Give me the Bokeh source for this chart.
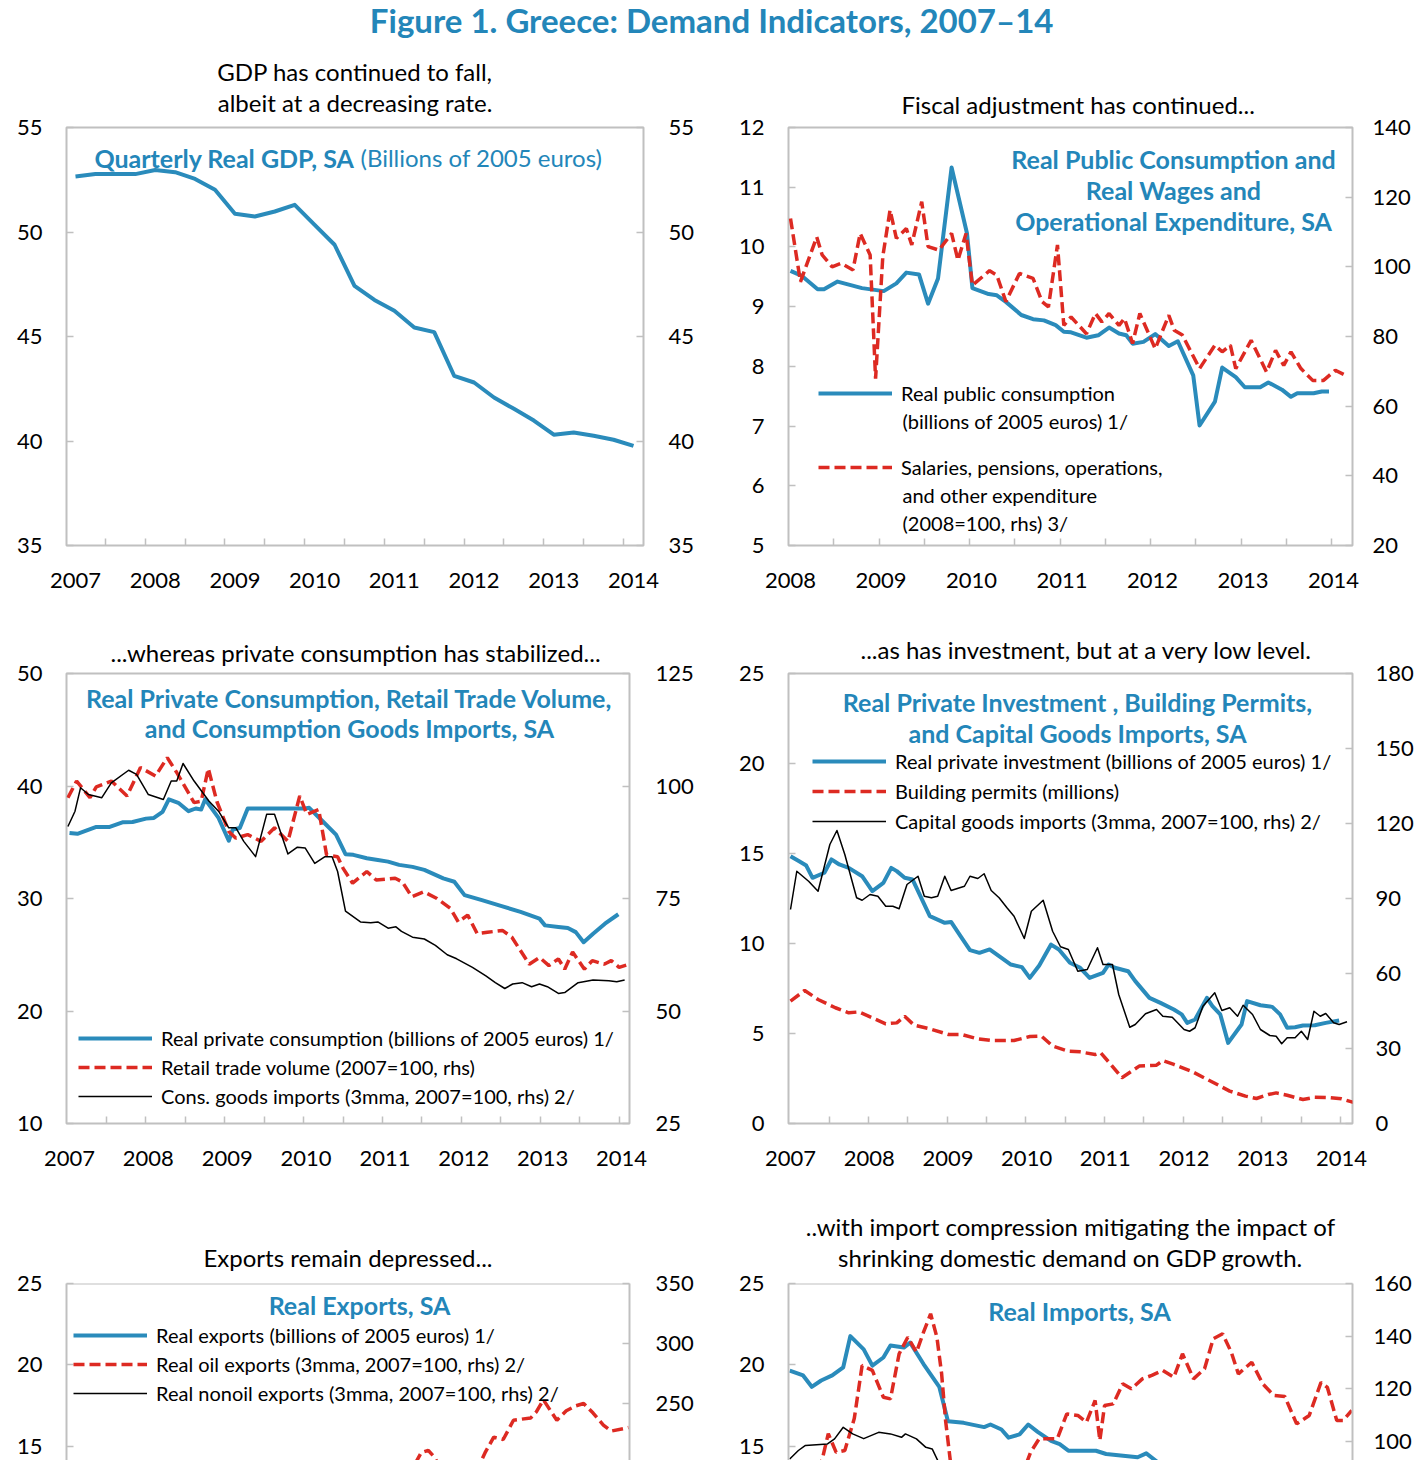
from bokeh.plotting import figure
from bokeh.models import Range1d, LinearAxis, FixedTicker, Legend, LegendItem, Label, Span, Title
from bokeh.layouts import column, row
from bokeh.embed import file_html
from bokeh.resources import INLINE

FONT = "Lato"
BLUE = "#2a8bbb"
TITLE_BLUE = "#2386b9"
RED = "#dd2a22"
BLACK = "#000000"
FRAME = "#c0c0c0"

# ---------------- data ----------------
years_07 = [2007, 2008, 2009, 2010, 2011, 2012, 2013, 2014]
years_08 = [2008, 2009, 2010, 2011, 2012, 2013, 2014]

# Panel 1: quarterly real GDP (billions of 2005 euros)
gdp_t = [2007.0, 2007.25, 2007.5, 2007.75, 2008.0, 2008.25, 2008.5, 2008.75,
         2009.0, 2009.25, 2009.5, 2009.75, 2010.0, 2010.25, 2010.5, 2010.75,
         2011.0, 2011.25, 2011.5, 2011.75, 2012.0, 2012.25, 2012.5, 2012.75,
         2013.0, 2013.25, 2013.5, 2013.75, 2014.0]
gdp = [52.66, 52.77, 52.78, 52.77, 52.97, 52.86, 52.54, 52.02, 50.87, 50.74,
       50.98, 51.30, 50.34, 49.39, 47.42, 46.75, 46.23, 45.43, 45.21, 43.12,
       42.80, 42.08, 41.54, 40.98, 40.30, 40.41, 40.25, 40.06, 39.77]

# Panel 2: real public consumption (lhs) and salaries etc. (rhs, 2008=100)
pubcons_t = [2008.00, 2008.12, 2008.30, 2008.37, 2008.52, 2008.79, 2009.03, 2009.17,
             2009.28, 2009.42, 2009.52, 2009.63, 2009.78, 2009.95, 2010.01, 2010.19,
             2010.28, 2010.38, 2010.55, 2010.68, 2010.80, 2010.93, 2011.02, 2011.10,
             2011.27, 2011.40, 2011.52, 2011.63, 2011.71, 2011.78, 2011.90, 2012.03,
             2012.18, 2012.28, 2012.45, 2012.52, 2012.69, 2012.77, 2012.92, 2013.02,
             2013.19, 2013.28, 2013.43, 2013.53, 2013.60, 2013.78, 2013.87, 2013.95]
pubcons = [9.60, 9.52, 9.29, 9.29, 9.42, 9.31, 9.26, 9.39, 9.57, 9.54, 9.05, 9.47,
           11.33, 10.23, 9.31, 9.21, 9.19, 9.08, 8.86, 8.79, 8.77, 8.69, 8.58, 8.57,
           8.48, 8.52, 8.65, 8.55, 8.52, 8.38, 8.41, 8.54, 8.34, 8.42, 7.85, 7.01,
           7.41, 7.98, 7.82, 7.65, 7.65, 7.73, 7.61, 7.49, 7.55, 7.55, 7.58, 7.58]
spend_t = [2008.00, 2008.11, 2008.29, 2008.35, 2008.46, 2008.56, 2008.69, 2008.77,
           2008.88, 2008.94, 2009.02, 2009.10, 2009.17, 2009.28, 2009.34, 2009.45,
           2009.52, 2009.64, 2009.78, 2009.85, 2009.94, 2010.01, 2010.20, 2010.28,
           2010.38, 2010.53, 2010.68, 2010.78, 2010.85, 2010.95, 2011.02, 2011.10,
           2011.27, 2011.37, 2011.44, 2011.52, 2011.63, 2011.69, 2011.78, 2011.86,
           2012.03, 2012.18, 2012.24, 2012.33, 2012.52, 2012.69, 2012.77, 2012.86,
           2012.92, 2013.09, 2013.26, 2013.36, 2013.45, 2013.53, 2013.64, 2013.77,
           2013.89, 2014.02, 2014.13]
spend = [113.9, 95.7, 108.6, 103.4, 100.0, 101.0, 99.1, 109.6, 103.4, 67.9, 103.0,
         116.3, 108.2, 111.0, 106.3, 118.7, 105.8, 104.8, 109.6, 101.9, 109.6, 94.7,
         98.9, 97.6, 90.0, 98.1, 96.7, 90.0, 88.5, 106.3, 83.2, 85.6, 80.8, 86.6,
         84.2, 86.6, 83.2, 85.2, 78.0, 86.6, 76.5, 86.1, 81.8, 80.4, 70.8, 77.5,
         75.6, 77.5, 70.8, 78.9, 69.8, 76.0, 71.7, 75.6, 70.8, 67.4, 67.4, 70.3, 68.9]

# Panel 3: private consumption (lhs), retail trade (rhs), cons. goods imports (rhs)
privcons_t = [2007.00, 2007.10, 2007.34, 2007.51, 2007.68, 2007.80, 2007.97, 2008.07,
              2008.18, 2008.26, 2008.38, 2008.51, 2008.60, 2008.67, 2008.72, 2008.89,
              2009.02, 2009.07, 2009.16, 2009.26, 2009.99, 2010.04, 2010.21, 2010.38,
              2010.50, 2010.60, 2010.77, 2010.91, 2011.04, 2011.18, 2011.35, 2011.50,
              2011.74, 2011.88, 2012.01, 2012.23, 2012.47, 2012.72, 2012.96, 2013.03,
              2013.20, 2013.32, 2013.42, 2013.52, 2013.64, 2013.79, 2013.96]
privcons = [35.82, 35.75, 36.36, 36.36, 36.78, 36.80, 37.10, 37.16, 37.70, 38.81,
            38.51, 37.76, 38.00, 37.91, 38.81, 37.16, 35.13, 36.12, 36.27, 38.00,
            38.00, 38.06, 36.87, 35.67, 33.94, 33.88, 33.58, 33.43, 33.28, 32.99,
            32.81, 32.54, 31.79, 31.49, 30.30, 29.85, 29.34, 28.81, 28.21, 27.61,
            27.46, 27.37, 27.01, 26.12, 26.87, 27.76, 28.60]
retail_t = [2006.98, 2007.09, 2007.26, 2007.34, 2007.53, 2007.73, 2007.90, 2008.09,
            2008.24, 2008.36, 2008.58, 2008.67, 2008.76, 2008.87, 2009.02, 2009.11,
            2009.26, 2009.43, 2009.60, 2009.77, 2009.92, 2010.01, 2010.16, 2010.26,
            2010.40, 2010.47, 2010.59, 2010.77, 2010.89, 2011.13, 2011.22, 2011.34,
            2011.49, 2011.66, 2011.83, 2011.93, 2012.05, 2012.17, 2012.30, 2012.49,
            2012.61, 2012.83, 2012.96, 2013.08, 2013.20, 2013.28, 2013.38, 2013.53,
            2013.63, 2013.78, 2013.87, 2013.97, 2014.06]
retail = [97.4, 101.1, 97.4, 99.8, 101.1, 97.8, 104.1, 102.2, 106.3, 103.0, 96.3,
          96.6, 103.9, 96.5, 89.9, 88.4, 89.2, 87.7, 90.7, 87.7, 97.8, 93.7, 94.8,
          84.7, 84.3, 81.7, 78.4, 81.0, 79.1, 79.5, 78.7, 75.4, 76.5, 75.0, 72.8,
          69.8, 71.3, 67.2, 67.5, 67.9, 66.4, 60.4, 61.9, 60.1, 61.6, 59.3, 63.1,
          59.3, 61.2, 60.4, 61.2, 59.7, 60.2]
consimp_t = [2006.98, 2007.07, 2007.14, 2007.24, 2007.41, 2007.53, 2007.75, 2007.85,
             2008.00, 2008.19, 2008.29, 2008.36, 2008.44, 2008.58, 2008.77, 2008.89,
             2009.02, 2009.11, 2009.21, 2009.36, 2009.50, 2009.60, 2009.77, 2009.89,
             2009.99, 2010.11, 2010.24, 2010.33, 2010.40, 2010.50, 2010.69, 2010.82,
             2010.91, 2011.04, 2011.14, 2011.21, 2011.35, 2011.50, 2011.64, 2011.79,
             2011.91, 2012.11, 2012.28, 2012.40, 2012.52, 2012.62, 2012.74, 2012.86,
             2012.96, 2013.06, 2013.20, 2013.28, 2013.45, 2013.64, 2013.84, 2013.94,
             2014.04]
consimp = [91.0, 94.4, 99.6, 98.1, 97.4, 100.7, 103.5, 102.6, 98.1, 97.0, 101.1,
           101.1, 105.0, 101.1, 96.6, 94.4, 90.7, 90.7, 87.7, 84.3, 93.7, 93.7, 84.9,
           86.4, 86.2, 82.8, 84.3, 84.3, 81.0, 72.2, 69.8, 69.6, 69.8, 68.4, 68.7,
           67.7, 66.4, 66.0, 64.6, 62.5, 61.6, 59.7, 57.8, 56.3, 55.0, 56.0, 56.3,
           55.4, 56.0, 55.4, 53.9, 54.1, 56.3, 56.9, 56.7, 56.5, 56.9]

# Panel 4: private investment (lhs), building permits (lhs), capital goods imports (rhs)
invest_t = [2007.00, 2007.11, 2007.20, 2007.28, 2007.43, 2007.52, 2007.62, 2007.74,
            2007.91, 2008.04, 2008.18, 2008.28, 2008.35, 2008.45, 2008.55, 2008.77,
            2008.96, 2009.04, 2009.16, 2009.28, 2009.40, 2009.53, 2009.80, 2009.94,
            2010.04, 2010.16, 2010.31, 2010.41, 2010.55, 2010.68, 2010.80, 2010.97,
            2011.04, 2011.12, 2011.29, 2011.38, 2011.56, 2011.70, 2011.87, 2011.97,
            2012.04, 2012.14, 2012.29, 2012.36, 2012.46, 2012.56, 2012.73, 2012.80,
            2012.97, 2013.12, 2013.22, 2013.31, 2013.41, 2013.51, 2013.66, 2013.80,
            2013.97]
invest = [14.85, 14.57, 14.33, 13.65, 13.93, 14.67, 14.39, 14.20, 13.74, 12.91,
          13.37, 14.20, 14.02, 13.65, 13.56, 11.52, 11.15, 11.20, 10.41, 9.63, 9.48,
          9.67, 8.83, 8.69, 8.09, 8.78, 9.94, 9.67, 8.93, 8.65, 8.09, 8.37, 8.83,
          8.65, 8.46, 7.91, 6.98, 6.70, 6.33, 6.06, 5.59, 5.78, 6.98, 6.52, 6.06,
          4.48, 5.50, 6.80, 6.57, 6.48, 6.06, 5.32, 5.35, 5.44, 5.46, 5.59, 5.72]
permits_t = [2007.00, 2007.18, 2007.35, 2007.57, 2007.74, 2007.87, 2008.04, 2008.21,
             2008.35, 2008.45, 2008.57, 2008.77, 2009.01, 2009.18, 2009.36, 2009.55,
             2009.84, 2010.04, 2010.19, 2010.33, 2010.53, 2010.68, 2010.87, 2010.94,
             2011.07, 2011.21, 2011.43, 2011.65, 2011.73, 2011.87, 2012.09, 2012.34,
             2012.58, 2012.78, 2012.92, 2013.07, 2013.17, 2013.31, 2013.51, 2013.66,
             2013.85, 2014.00, 2014.17]
permits = [6.80, 7.39, 6.89, 6.43, 6.15, 6.20, 5.87, 5.54, 5.59, 5.96, 5.46, 5.26,
           4.94, 4.94, 4.72, 4.61, 4.61, 4.83, 4.85, 4.30, 4.02, 3.98, 3.83, 3.93,
           3.28, 2.54, 3.19, 3.24, 3.50, 3.28, 2.91, 2.35, 1.80, 1.52, 1.39, 1.61,
           1.70, 1.57, 1.33, 1.46, 1.43, 1.37, 1.15]
capimp_t = [2007.00, 2007.08, 2007.23, 2007.35, 2007.50, 2007.59, 2007.69, 2007.84,
            2007.91, 2008.01, 2008.11, 2008.21, 2008.30, 2008.38, 2008.48, 2008.62,
            2008.70, 2008.79, 2008.87, 2008.96, 2009.04, 2009.21, 2009.28, 2009.38,
            2009.46, 2009.55, 2009.65, 2009.75, 2009.84, 2009.97, 2010.06, 2010.21,
            2010.33, 2010.43, 2010.53, 2010.65, 2010.77, 2010.90, 2010.97, 2011.09,
            2011.17, 2011.31, 2011.38, 2011.51, 2011.65, 2011.73, 2011.85, 2012.00,
            2012.07, 2012.14, 2012.24, 2012.39, 2012.48, 2012.58, 2012.68, 2012.75,
            2012.87, 2012.97, 2013.09, 2013.17, 2013.24, 2013.31, 2013.41, 2013.49,
            2013.57, 2013.65, 2013.73, 2013.80, 2013.90, 2013.97, 2014.07]
capimp = [85.6, 100.9, 96.9, 92.9, 111.6, 117.2, 107.6, 90.3, 89.3, 91.6, 90.9, 86.9,
          86.9, 85.9, 95.6, 98.9, 90.9, 90.3, 90.9, 98.9, 93.2, 94.9, 98.9, 98.0,
          99.9, 93.2, 90.3, 86.3, 82.9, 74.0, 84.9, 89.3, 76.9, 70.7, 69.6, 60.9,
          61.6, 70.3, 63.6, 63.6, 51.6, 38.5, 39.6, 43.9, 45.6, 42.9, 42.5, 37.6,
          36.9, 38.3, 46.9, 52.3, 45.2, 46.3, 42.9, 47.3, 43.6, 37.6, 35.2, 34.9,
          31.9, 34.3, 34.3, 36.9, 33.6, 44.9, 42.9, 44.0, 40.3, 39.6, 40.7]

# Panel 5: real exports (lhs), oil exports (rhs), nonoil exports (rhs)
exports_t = gdp_t
exports = [12.9, 13.2, 13.4, 13.3, 13.4, 13.5, 13.2, 12.6, 11.4, 10.8, 10.6, 10.9,
           11.2, 11.6, 11.9, 11.8, 12.0, 12.2, 12.1, 12.0, 12.3, 12.1, 12.4, 12.2,
           12.0, 12.3, 12.6, 12.4, 12.5]
oilexp_t = [2007.00, 2007.50, 2008.00, 2008.50, 2009.00, 2009.50, 2010.00, 2010.50,
            2011.00, 2011.30, 2011.46, 2011.55, 2011.63, 2011.80, 2012.00, 2012.15,
            2012.27, 2012.38, 2012.50, 2012.63, 2012.85, 2012.92, 2013.01, 2013.18,
            2013.30, 2013.42, 2013.52, 2013.64, 2013.77, 2013.87, 2014.09]
oilexp = [100, 105, 112, 98, 86, 110, 125, 150, 170, 190, 209, 211, 205, 185, 178,
          192, 209, 222, 220, 236, 238, 243, 253, 236, 244, 248, 250, 242, 232, 227, 230]
nonoilexp_t = [2007.0, 2007.5, 2008.0, 2008.5, 2009.0, 2009.5, 2010.0, 2010.5,
               2011.0, 2011.5, 2012.0, 2012.5, 2013.0, 2013.5, 2014.0]
nonoilexp = [98, 102, 104, 106, 92, 88, 94, 100, 104, 108, 110, 106, 108, 112, 110]

# Panel 6: real imports (lhs), oil imports (rhs), nonoil imports (rhs)
imports_t = [2006.99, 2007.16, 2007.27, 2007.39, 2007.53, 2007.67, 2007.76, 2007.93,
             2008.04, 2008.18, 2008.27, 2008.44, 2008.52, 2008.69, 2008.89, 2009.00,
             2009.20, 2009.46, 2009.54, 2009.68, 2009.77, 2009.91, 2010.02, 2010.14,
             2010.31, 2010.42, 2010.53, 2010.88, 2011.01, 2011.41, 2011.52, 2011.70,
             2012.00, 2012.50, 2013.00, 2013.50, 2014.00]
imports = [19.66, 19.36, 18.66, 19.05, 19.36, 19.86, 21.77, 20.96, 19.96, 20.46,
           21.20, 21.07, 21.37, 20.06, 18.66, 16.55, 16.45, 16.19, 16.35, 16.04,
           15.54, 15.74, 16.35, 15.90, 15.34, 15.14, 14.74, 14.74, 14.54, 14.34,
           14.58, 13.9, 13.4, 12.9, 12.7, 12.8, 12.9]
oilimp_t = [2007.00, 2007.20, 2007.40, 2007.48, 2007.58, 2007.69, 2007.81, 2007.91,
            2008.04, 2008.18, 2008.27, 2008.38, 2008.49, 2008.60, 2008.69, 2008.78,
            2008.86, 2008.92, 2008.97, 2009.03, 2009.30, 2009.60, 2009.85, 2010.05,
            2010.16, 2010.39, 2010.51, 2010.65, 2010.76, 2010.87, 2010.93, 2010.99,
            2011.10, 2011.22, 2011.33, 2011.47, 2011.59, 2011.73, 2011.87, 2011.98,
            2012.12, 2012.26, 2012.37, 2012.49, 2012.60, 2012.69, 2012.86, 2013.00,
            2013.14, 2013.28, 2013.43, 2013.59, 2013.74, 2013.82, 2013.94, 2014.02,
            2014.13]
oilimp = [90.0, 86.0, 92.8, 103.0, 95.9, 96.6, 108.7, 128.9, 127.0, 116.8, 116.2,
          133.3, 139.6, 133.9, 141.5, 148.5, 139.6, 125.7, 108.0, 92.8, 78.0, 72.0,
          80.0, 95.9, 101.1, 101.1, 110.5, 109.9, 107.3, 115.6, 100.4, 113.7, 114.3,
          121.9, 120.0, 123.8, 125.1, 127.0, 124.4, 133.3, 123.8, 127.6, 139.0, 140.9,
          133.9, 125.7, 130.1, 121.9, 117.5, 117.1, 106.7, 109.9, 122.5, 120.6, 108.0,
          108.0, 111.8]
nonoilimp_t = [2006.99, 2007.10, 2007.19, 2007.47, 2007.56, 2007.67, 2007.79, 2007.93,
               2008.12, 2008.27, 2008.41, 2008.46, 2008.60, 2008.72, 2008.80, 2008.89,
               2009.10, 2009.50, 2010.00, 2010.50, 2011.00, 2011.50, 2012.00, 2012.50,
               2013.00, 2013.50, 2014.00]
nonoilimp = [93.4, 96.6, 98.5, 99.1, 101.0, 105.4, 102.9, 101.1, 103.5, 102.9, 101.6,
             102.9, 101.0, 97.8, 97.2, 91.6, 85.0, 82.0, 84.0, 80.0, 74.0, 70.0, 66.0,
             63.0, 62.0, 63.0, 65.0]

# tick-mark positions on the time axes (between the labelled years' groups)
ticks_p1 = [2007.375 + 0.5 * k for k in range(14)]
ticks_p2 = [2008.48 + 0.5 * k for k in range(12)]
ticks_p3 = [2007.47 + 0.5 * k for k in range(14)]
ticks_p4 = [2007.49 + 0.5 * k for k in range(14)]


# ---------------- helpers ----------------
def panel(w, h, bl, br, bt, bb, xr, yl, yr, ylt, yrt, xticks, xminor, rstand,
          xaxis=True, outline=True):
    p = figure(width=w, height=h, x_range=Range1d(*xr), y_range=Range1d(*yl),
               min_border_left=bl, min_border_right=br, min_border_top=bt,
               min_border_bottom=bb, output_backend="svg", toolbar_location=None,
               x_axis_location="below" if xaxis else None)
    p.xgrid.visible = False
    p.ygrid.visible = False
    p.background_fill_color = "white"
    p.border_fill_color = "white"
    p.outline_line_color = FRAME if outline else None
    p.outline_line_width = 2
    p.extra_y_ranges = {"r": Range1d(*yr)}
    ax_r = LinearAxis(y_range_name="r")
    p.add_layout(ax_r, "right")
    for ax, tks, st in ((p.left[0], ylt, 24), (ax_r, yrt, rstand)):
        ax.ticker = FixedTicker(ticks=tks, minor_ticks=[])
        ax.major_tick_in = 7
        ax.major_tick_out = 0
        ax.minor_tick_in = 0
        ax.minor_tick_out = 0
        ax.major_tick_line_color = FRAME
        ax.major_tick_line_width = 1.5
        ax.axis_line_color = None if outline else FRAME
        ax.axis_line_width = 2
        ax.major_label_standoff = st
        ax.major_label_text_font = FONT
        ax.major_label_text_font_size = "22px"
        ax.major_label_text_color = BLACK
    if xaxis:
        ax = p.below[0]
        ax.ticker = FixedTicker(ticks=xticks, minor_ticks=xminor)
        ax.major_tick_in = 0
        ax.major_tick_out = 0
        ax.minor_tick_in = 7
        ax.minor_tick_out = 0
        ax.minor_tick_line_color = FRAME
        ax.minor_tick_line_width = 1.5
        ax.axis_line_color = None
        ax.major_label_standoff = 27
        ax.major_label_text_font = FONT
        ax.major_label_text_font_size = "22px"
        ax.major_label_text_color = BLACK
    return p


def subtitle(p, lines, standoffs, spacer=None, align="center", offset=0):
    # lines given top to bottom; items nearest the frame are added first
    if spacer is not None:
        p.add_layout(Title(text=" ", text_font_size="1px", standoff=spacer), "above")
    for s, st in zip(reversed(lines), standoffs):
        p.add_layout(Title(text=s, align=align, offset=offset, text_font=FONT,
                           text_font_size="24px", text_font_style="normal",
                           text_color=BLACK, standoff=st), "above")


def txt(p, x, y, s, size="20px", bold=False, color=BLACK, align="center"):
    p.add_layout(Label(x=x, y=y, text=s, text_font=FONT, text_font_size=size,
                       text_font_style="bold" if bold else "normal",
                       text_color=color, text_align=align, text_baseline="middle"))


def head(p, x, y, s, align="center"):
    txt(p, x, y, s, size="25px", bold=True, color=TITLE_BLUE, align=align)


def legend(p, items, loc, spacing):
    leg = Legend(items=[LegendItem(label=l, renderers=[r]) for l, r in items],
                 location=loc, orientation="vertical", border_line_color=None,
                 background_fill_alpha=0, padding=0, margin=0, spacing=spacing,
                 glyph_width=74, glyph_height=26, label_height=26, label_standoff=9,
                 label_text_font=FONT, label_text_font_size="20px",
                 label_text_color=BLACK)
    p.add_layout(leg)


def blue(p, x, y, rng="default"):
    return p.line(x, y, line_color=BLUE, line_width=4, line_join="round", y_range_name=rng)


def red(p, x, y, rng="default"):
    return p.line(x, y, line_color=RED, line_width=3.5, line_dash="11 5", y_range_name=rng)


def black(p, x, y, rng="default"):
    return p.line(x, y, line_color=BLACK, line_width=1.5, line_join="round", y_range_name=rng)


# ---------------- main title ----------------
tf = figure(width=1428, height=54, x_range=Range1d(0, 1), y_range=Range1d(0, 1),
            x_axis_location=None, y_axis_location=None, min_border=0,
            outline_line_color=None, output_backend="svg", toolbar_location=None)
tf.grid.visible = False
tf.add_layout(Label(x=0.498, y=0.63, text="Figure 1. Greece: Demand Indicators, 2007\u201314",
                    text_font=FONT, text_font_size="33px", text_font_style="bold",
                    text_color=TITLE_BLUE, text_align="center", text_baseline="middle"))

# ---------------- panel 1 ----------------
p1 = panel(720, 566, 66, 77, 73, 75, (2006.8871, 2014.1254), (35, 55), (35, 55),
           [35, 40, 45, 50, 55], [35, 40, 45, 50, 55], years_07, ticks_p1, 25)
blue(p1, gdp_t, gdp)
subtitle(p1, ["GDP has continued to fall,", "albeit at a decreasing rate."], [0, 0], spacer=8)
head(p1, 2010.50, 53.56, "Quarterly Real GDP, SA", align="right")
txt(p1, 2010.575, 53.56, "(Billions of 2005 euros)", size="24px", color=TITLE_BLUE, align="left")

# ---------------- panel 2 ----------------
p2 = panel(708, 566, 68, 76, 73, 75, (2007.9779, 2014.2099), (5, 12), (20, 140),
           [5, 6, 7, 8, 9, 10, 11, 12], [20, 40, 60, 80, 100, 120, 140],
           years_08, ticks_p2, 20)
r2a = blue(p2, pubcons_t, pubcons)
r2b = red(p2, spend_t, spend, "r")
subtitle(p2, ["Fiscal adjustment has continued..."], [18], align="left", offset=113)
head(p2, 2012.232, 11.48, "Real Public Consumption and")
head(p2, 2012.232, 10.96, "Real Wages and")
head(p2, 2012.232, 10.44, "Operational Expenditure, SA")
legend(p2, [("Real public consumption", r2a), ("Salaries, pensions, operations,", r2b)],
       (30, 65), 48)
txt(p2, 2009.2376, 7.093, "(billions of 2005 euros) 1/", align="left")
txt(p2, 2009.2376, 5.854, "and other expenditure", align="left")
txt(p2, 2009.2376, 5.385, "(2008=100, rhs) 3/", align="left")

# ---------------- panel 3 ----------------
p3 = panel(720, 570, 66, 91, 53, 65, (2006.962, 2014.1016), (10, 50), (25, 125),
           [10, 20, 30, 40, 50], [25, 50, 75, 100, 125], years_07, ticks_p3, 26)
r3a = blue(p3, privcons_t, privcons)
r3b = red(p3, retail_t, retail, "r")
r3c = black(p3, consimp_t, consimp, "r")
subtitle(p3, ["...whereas private consumption has stabilized..."], [14], align="left", offset=44)
head(p3, 2010.551, 47.79, "Real Private Consumption, Retail Trade Volume,")
head(p3, 2010.551, 45.13, "and Consumption Goods Imports, SA")
legend(p3, [("Real private consumption (billions of 2005 euros) 1/", r3a),
            ("Retail trade volume (2007=100, rhs)", r3b),
            ("Cons. goods imports (3mma, 2007=100, rhs) 2/", r3c)], (12, 14), 3)

# ---------------- panel 4 ----------------
p4 = panel(708, 570, 68, 76, 53, 67, (2006.9746, 2014.1398), (0, 25), (0, 180),
           [0, 5, 10, 15, 20, 25], [0, 30, 60, 90, 120, 150, 180], years_07, ticks_p4, 23)
r4a = blue(p4, invest_t, invest)
r4b = red(p4, permits_t, permits)
r4c = black(p4, capimp_t, capimp, "r")
subtitle(p4, ["...as has investment, but at a very low level."], [20], align="left", offset=72)
head(p4, 2010.646, 23.44, "Real Private Investment , Building Permits,")
head(p4, 2010.646, 21.67, "and Capital Goods Imports, SA")
legend(p4, [("Real private investment (billions of 2005 euros) 1/", r4a),
            ("Building permits (millions)", r4b),
            ("Capital goods imports (3mma, 2007=100, rhs) 2/", r4c)], (24, 289), 4)

# ---------------- panel 5 (cut by the page edge) ----------------
p5 = panel(720, 270, 66, 91, 93, 0, (2006.962, 2014.1016), (14.14, 25), (202.5, 350),
           [15, 20, 25], [250, 300, 350], years_07, ticks_p3, 26,
           xaxis=False, outline=False)
p5.add_layout(Span(location=25, dimension="width", line_color=FRAME, line_width=2))
r5a = blue(p5, exports_t, exports)
r5b = red(p5, oilexp_t, oilexp, "r")
r5c = black(p5, nonoilexp_t, nonoilexp, "r")
subtitle(p5, ["Exports remain depressed..."], [24])
head(p5, 2010.678, 23.68, "Real Exports, SA")
legend(p5, [("Real exports (billions of 2005 euros) 1/", r5a),
            ("Real oil exports (3mma, 2007=100, rhs) 2/", r5b),
            ("Real nonoil exports (3mma, 2007=100, rhs) 2/", r5c)], (7, 54), 3)

# ---------------- panel 6 (cut by the page edge) ----------------
p6 = panel(708, 270, 68, 76, 93, 0, (2006.9746, 2014.1398), (14.14, 25), (92.8, 160),
           [15, 20, 25], [100, 120, 140, 160], years_07, ticks_p4, 21,
           xaxis=False, outline=False)
p6.add_layout(Span(location=25, dimension="width", line_color=FRAME, line_width=2))
blue(p6, imports_t, imports)
red(p6, oilimp_t, oilimp, "r")
black(p6, nonoilimp_t, nonoilimp, "r")
subtitle(p6, ["..with import compression mitigating the impact of",
              "shrinking domestic demand on GDP growth."], [0, 0], spacer=9)
head(p6, 2010.672, 23.31, "Real Imports, SA")

layout = column(tf, row(p1, p2), row(p3, p4), row(p5, p6))

with open("out.html", "w") as f:
    f.write(file_html(layout, INLINE))
